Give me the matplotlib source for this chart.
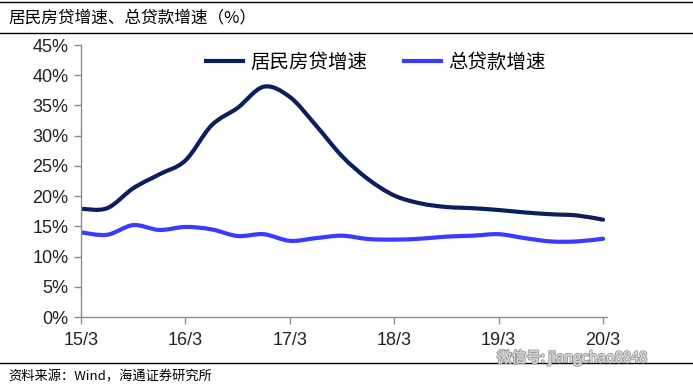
import matplotlib
matplotlib.use("Agg")
import matplotlib.pyplot as plt
import numpy as np
from matplotlib.path import Path
from matplotlib.patches import PathPatch
from matplotlib.lines import Line2D
import matplotlib.patheffects as pe

plt.rcParams['font.family'] = ['Liberation Sans', 'Noto Sans CJK SC', 'DejaVu Sans']

# quarterly data 2015/3 .. 2020/3
quarters = list(range(21))
house_loan = [17.9, 18.0, 21.3, 23.6, 25.9, 31.7, 34.6, 38.1, 36.4, 31.7, 26.6,
              22.8, 20.1, 18.8, 18.2, 18.0, 17.7, 17.3, 17.0, 16.8, 16.1]
total_loan = [14.0, 13.6, 15.2, 14.4, 14.9, 14.5, 13.4, 13.7, 12.6, 13.05, 13.45,
              12.9, 12.8, 12.95, 13.3, 13.45, 13.7, 13.05, 12.5, 12.5, 12.95]
xtick_labels = ['15/3', '16/3', '17/3', '18/3', '19/3', '20/3']
series_names = ['居民房贷增速', '总贷款增速']

DARK = '#0b1f5e'
BLUE = '#3b3bff'


def smooth_path(xs, ys):
    p = np.column_stack([xs, ys]).astype(float)
    n = len(p)
    verts = [p[0]]
    codes = [Path.MOVETO]
    for i in range(n - 1):
        p0 = p[i - 1] if i > 0 else p[i]
        p1 = p[i]
        p2 = p[i + 1]
        p3 = p[i + 2] if i + 2 < n else p[i + 1]
        c1 = p1 + (p2 - p0) / 6.0
        c2 = p2 - (p3 - p1) / 6.0
        verts += [c1, c2, p2]
        codes += [Path.CURVE4] * 3
    return Path(verts, codes)


fig = plt.figure(figsize=(6.93, 3.9), dpi=100)
ax = fig.add_axes([81 / 693, 1 - 317 / 390, (607 - 81) / 693, (317 - 45) / 390])

for ys, c in [(house_loan, DARK), (total_loan, BLUE)]:
    patch = PathPatch(smooth_path(quarters, ys), facecolor='none', edgecolor=c,
                      lw=3.0, capstyle='round', joinstyle='round')
    ax.add_patch(patch)

ax.set_xlim(0, 20.15)
ax.set_ylim(0, 45)
ax.set_yticks(np.arange(0, 46, 5))
ax.set_yticklabels([f'{v}%' for v in range(0, 46, 5)])
ax.set_xticks([0, 4, 8, 12, 16, 20])
ax.set_xticklabels(xtick_labels)
for s in ['top', 'right']:
    ax.spines[s].set_visible(False)
for s in ['left', 'bottom']:
    ax.spines[s].set_color('#8c8c8c')
    ax.spines[s].set_linewidth(1.0)
ax.tick_params(axis='both', colors='#8c8c8c', length=5, width=1.0,
               labelcolor='#222222', labelsize=13)
ax.tick_params(axis='y', pad=4)
ax.tick_params(axis='x', pad=6)

handles = [Line2D([], [], color=DARK, lw=3.0), Line2D([], [], color=BLUE, lw=3.0)]
leg = ax.legend(handles, series_names, loc='upper left', bbox_to_anchor=(0.205, 1.04),
                ncol=2, frameon=False, handlelength=1.9,
                handletextpad=0.35, columnspacing=1.9,
                prop={'family': ['Noto Sans CJK SC'], 'size': 14})

# header / footer
fig.add_artist(Line2D([0, 1], [1 - 2 / 390, 1 - 2 / 390], color='black', lw=1.0))
fig.add_artist(Line2D([0, 1], [1 - 33 / 390, 1 - 33 / 390], color='black', lw=1.0))
fig.add_artist(Line2D([0, 1], [1 - 363 / 390, 1 - 363 / 390], color='black', lw=1.0))
fig.text(8 / 693, 1 - 18 / 390, '居民房贷增速、总贷款增速（%）', fontsize=12,
         family=['Noto Sans CJK SC'], va='center', ha='left')
fig.text(8 / 693, 1 - 377 / 390, '资料来源：Wind，海通证券研究所', fontsize=9.5,
         family=['Noto Sans CJK SC', 'DejaVu Sans'], va='center', ha='left')
fig.text(497 / 693, 1 - 357.5 / 390, '微信号: jiangchao8848', fontsize=10.5,
         family=['Noto Sans CJK SC'], va='center', ha='left', color='#d8d8d8',
         path_effects=[pe.withStroke(linewidth=1.5, foreground='#9a9a9a'), pe.Normal()])

fig.savefig('out.png', dpi=100)
